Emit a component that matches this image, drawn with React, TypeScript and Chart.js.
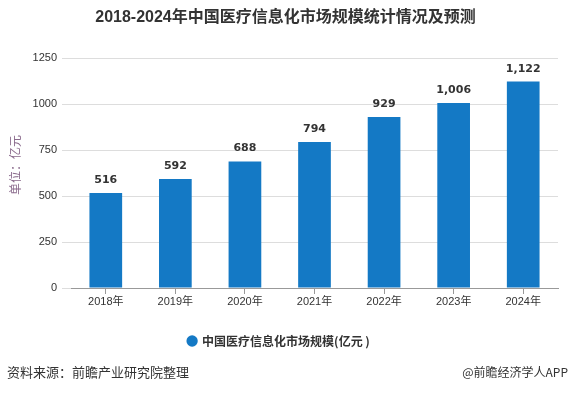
import React, { useEffect, useRef } from 'react';
import { Chart, registerables } from 'chart.js';

Chart.register(...registerables);

const categories = ['2018年', '2019年', '2020年', '2021年', '2022年', '2023年', '2024年'];
const values = [516, 592, 688, 794, 929, 1006, 1122];
const yMin = 0;
const yMax = 1250;
const yStep = 250;
const seriesName = '中国医疗信息化市场规模(亿元 )';
const titleText = '2018-2024年中国医疗信息化市场规模统计情况及预测';
const yAxisTitle = '单位：亿元';
const sourceText = '资料来源：前瞻产业研究院整理';
const creditText = '@前瞻经济学人APP';

const CJK = '"Noto Sans CJK SC", "Liberation Sans", Arial, sans-serif';
const LATIN = '"Liberation Sans", Arial, "Noto Sans CJK SC", sans-serif';

const decorPlugin = {
  id: 'decor',
  afterDatasetsDraw(chart: any) {
    const ctx = chart.ctx;
    const meta = chart.getDatasetMeta(0);
    ctx.save();
    ctx.fillStyle = '#333333';
    ctx.font = 'bold 11px "DejaVu Sans", Verdana, sans-serif';
    ctx.textAlign = 'center';
    ctx.textBaseline = 'alphabetic';
    meta.data.forEach((el: any, i: number) => {
      const v = values[i];
      ctx.fillText(v.toLocaleString('en-US'), el.x, el.y - 10);
    });
    ctx.restore();
  },
  afterDraw(chart: any) {
    const ctx = chart.ctx;
    ctx.save();
    // title
    ctx.fillStyle = '#333333';
    ctx.font = 'bold 16px ' + LATIN;
    ctx.textAlign = 'center';
    ctx.textBaseline = 'middle';
    ctx.fillText(titleText, chart.width / 2, 18);
    // y-axis title
    ctx.save();
    ctx.translate(15, 165);
    ctx.rotate(-Math.PI / 2);
    ctx.fillStyle = '#8a6a8c';
    ctx.font = '12px ' + CJK;
    ctx.textAlign = 'center';
    ctx.textBaseline = 'middle';
    ctx.fillText(yAxisTitle, 0, 0);
    ctx.restore();
    // footer
    ctx.fillStyle = '#333333';
    ctx.font = '13px ' + CJK;
    ctx.textBaseline = 'middle';
    ctx.textAlign = 'left';
    ctx.fillText(sourceText, 7, 372);
    ctx.textAlign = 'right';
    ctx.font = '12px ' + CJK;
    ctx.fillText(creditText, 568, 372);
    ctx.restore();
  },
};

export default function App() {
  const ref = useRef<HTMLCanvasElement | null>(null);
  useEffect(() => {
    document.body.style.margin = '0';
    const canvas = ref.current;
    if (!canvas) return;
    const chart = new Chart(canvas, {
      type: 'bar',
      data: {
        labels: categories,
        datasets: [
          {
            label: seriesName,
            data: values,
            backgroundColor: '#1479c5',
            borderWidth: 0,
            categoryPercentage: 0.47,
            barPercentage: 1,
          },
        ],
      },
      options: {
        responsive: false,
        animation: false,
        devicePixelRatio: 1,
        layout: { padding: { top: 58, right: 13, bottom: 36, left: 0 } },
        plugins: {
          title: { display: false },
          tooltip: { enabled: false },
          legend: {
            display: true,
            position: 'bottom',
            labels: {
              usePointStyle: true,
              pointStyle: 'circle',
              boxWidth: 8,
              boxHeight: 8,
              color: '#333333',
              font: { size: 12, weight: 'bold', family: CJK },
              padding: 10,
            },
          },
        },
        scales: {
          x: {
            grid: {
              display: true,
              offset: false,
              drawOnChartArea: false,
              drawTicks: true,
              tickLength: 6,
              color: '#999999',
            },
            border: { display: true, color: '#999999', width: 1 },
            ticks: {
              color: '#333333',
              font: { size: 11, family: LATIN },
              padding: 1,
              maxRotation: 0,
            },
            afterFit: (scale: any) => {
              scale.height = 37;
            },
          },
          y: {
            min: yMin,
            max: yMax,
            ticks: {
              stepSize: yStep,
              color: '#333333',
              font: { size: 11, family: LATIN },
              padding: 5,
              callback: (v: any) => String(v),
            },
            grid: {
              color: '#dddddd',
              drawTicks: true,
              tickLength: 9,
            },
            border: { display: false },
            afterFit: (scale: any) => {
              scale.width = 71;
            },
          },
        },
      },
      plugins: [decorPlugin],
    });
    return () => chart.destroy();
  }, []);
  return (
    <div style={{ width: 571, height: 393 }}>
      <canvas ref={ref} width={571} height={393} style={{ display: 'block' }} />
    </div>
  );
}
